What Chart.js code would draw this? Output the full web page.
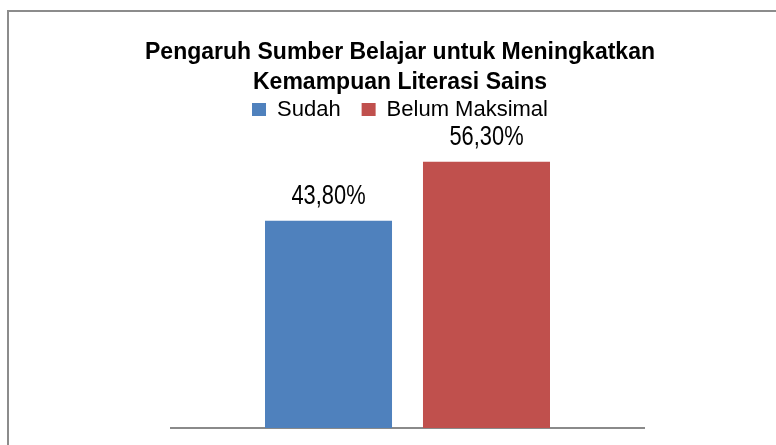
<!DOCTYPE html>
<html>
<head>
<meta charset="utf-8">
<script src="https://cdn.jsdelivr.net/npm/chart.js@4"></script>
<style>
  html, body { margin: 0; padding: 0; background: #fff; overflow: hidden; }
  #wrap { position: relative; width: 776px; height: 445px; }
  #frame { position: absolute; left: 7px; top: 10px; width: 900px; height: 600px; border: 2px solid #8c8c8c; }
  #myChart { position: absolute; left: 0; top: 0; }
</style>
</head>
<body>
<div id="wrap">
  <div id="frame"></div>
  <canvas id="myChart" width="776" height="445"></canvas>
</div>
<script>
// データ
const categories = [''];
const seriesNames = ['Sudah', 'Belum Maksimal'];
const sudahValues = [43.8];
const belumValues = [56.3];
const seriesColors = ['#4F81BD', '#C0504D'];

const fontFamily = '"Liberation Sans", Arial, sans-serif';

// 棒の上に値を書くプラグイン (少し縦長の文字)
const valueLabels = {
    id: 'valueLabels',
    afterDatasetsDraw(chart) {
        const ctx = chart.ctx;
        chart.data.datasets.forEach((ds, i) => {
            chart.getDatasetMeta(i).data.forEach((bar, j) => {
                const txt = ds.data[j].toFixed(2).replace('.', ',') + '%';
                ctx.save();
                ctx.font = '27px ' + fontFamily;
                ctx.fillStyle = '#000';
                ctx.textAlign = 'center';
                ctx.textBaseline = 'alphabetic';
                ctx.translate(bar.x, bar.y - 16.5);
                ctx.scale(0.81, 1);
                ctx.fillText(txt, 0, 0);
                ctx.restore();
            });
        });
    }
};

// 見えない軸で左右の余白を作る
const spacer = (w, pos) => ({
    position: pos,
    display: true,
    grid: { display: false },
    ticks: { display: false },
    border: { display: false },
    afterFit(scale) { scale.width = w; }
});

function drawChart() {
    const ctx = document.getElementById('myChart').getContext('2d');

    const data = {
        labels: categories,
        datasets: [{
            label: seriesNames[0],
            data: sudahValues,
            backgroundColor: seriesColors[0]
        }, {
            label: seriesNames[1],
            data: belumValues,
            backgroundColor: seriesColors[1]
        }]
    };

    const config = {
        type: 'bar',
        data: data,
        options: {
            responsive: false,
            animation: false,
            layout: { padding: { top: 37, left: 44, right: 20, bottom: 9 } },
            datasets: {
                bar: { barPercentage: 0.804, categoryPercentage: 0.668 }
            },
            scales: {
                x: {
                    grid: { display: false },
                    ticks: { display: false },
                    border: { display: true, color: '#8a8a8a', width: 2 }
                },
                y: Object.assign(spacer(127, 'left'), { beginAtZero: true, max: 62.9 }),
                yRight: spacer(112, 'right')
            },
            plugins: {
                title: {
                    display: true,
                    text: ['Pengaruh Sumber Belajar untuk Meningkatkan', 'Kemampuan Literasi Sains'],
                    color: '#000',
                    font: { family: fontFamily, size: 23, weight: 'bold', lineHeight: 1.33 },
                    padding: { top: 0, bottom: -20.7 }
                },
                legend: {
                    display: true,
                    labels: {
                        color: '#000',
                        font: { family: fontFamily, size: 22 },
                        boxWidth: 14,
                        boxHeight: 13,
                        padding: 21
                    }
                },
                tooltip: { enabled: false }
            }
        },
        plugins: [valueLabels]
    };

    new Chart(ctx, config);
}

window.onload = drawChart;
</script>
</body>
</html>
